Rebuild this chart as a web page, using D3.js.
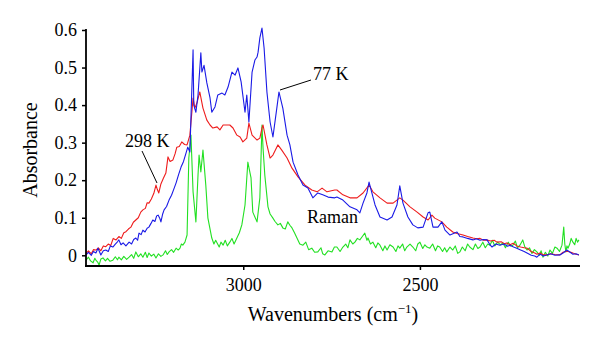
<!DOCTYPE html>
<html><head><meta charset="utf-8">
<script src="https://cdn.jsdelivr.net/npm/d3@7/dist/d3.min.js"></script>
<style>
html,body{margin:0;padding:0;background:#fff;}
text{font-family:"Liberation Serif","DejaVu Serif",serif;fill:#000;}
</style></head>
<body><svg id="chart" width="600" height="347"></svg>
<script>
// ---- data ----
const xTicks = [3000, 2500];
const yTicks = [0, 0.1, 0.2, 0.3, 0.4, 0.5, 0.6];
const seriesNames = ["298 K", "77 K", "Raman"];

const wn298 = [3445,3438,3430,3424,3417,3410,3403,3396,3389,3382,3375,3368,3360,3352,3345,3338,3332,3325,3318,3311,3304,3297,3290,3284,3277,3272,3267,3260,3253,3247,3243,3239,3233,3226,3219,3213,3207,3199,3193,3188,3181,3174,3166,3159,3151,3142,3137,3131,3123,3114,3103,3094,3086,3074,3066,3057,3038,3029,3018,3009,3001,2990,2984,2975,2961,2953,2947,2944,2933,2924,2916,2902,2891,2876,2862,2845,2825,2806,2791,2777,2763,2741,2735,2718,2698,2678,2661,2644,2633,2613,2593,2576,2557,2548,2528,2508,2491,2477,2466,2458,2438,2424,2407,2395,2378,2365,2350,2340,2330,2320,2310,2300,2290,2282,2270,2262,2254,2245,2236,2226,2215,2205,2197,2185,2175,2169,2160,2150,2141,2130,2118,2104,2095,2084,2075,2067,2058,2050];
const abs298 = [0.005,0.012,0.004,0.015,0.014,0.02,0.012,0.025,0.023,0.03,0.026,0.045,0.041,0.05,0.045,0.06,0.063,0.07,0.075,0.088,0.094,0.1,0.115,0.121,0.125,0.14,0.139,0.15,0.165,0.187,0.175,0.166,0.19,0.205,0.219,0.262,0.25,0.254,0.27,0.288,0.29,0.302,0.295,0.294,0.32,0.419,0.392,0.406,0.435,0.392,0.36,0.347,0.339,0.342,0.334,0.347,0.347,0.339,0.32,0.315,0.302,0.312,0.352,0.32,0.307,0.312,0.339,0.347,0.294,0.259,0.267,0.294,0.28,0.259,0.232,0.209,0.187,0.174,0.169,0.179,0.169,0.174,0.174,0.161,0.153,0.153,0.166,0.187,0.169,0.153,0.139,0.139,0.153,0.147,0.129,0.115,0.102,0.094,0.107,0.099,0.089,0.075,0.062,0.058,0.054,0.05,0.046,0.044,0.045,0.04,0.041,0.038,0.04,0.035,0.036,0.031,0.033,0.028,0.032,0.025,0.022,0.02,0.019,0.01,0.006,0.003,0.006,0.001,0.001,0.004,0.002,0.001,0.008,0.011,0.009,0.006,0.003,0.001];

const wn77 = [3445,3438,3430,3424,3417,3411,3403,3396,3389,3382,3376,3369,3362,3356,3352,3346,3340,3332,3323,3316,3310,3304,3299,3295,3289,3284,3278,3272,3267,3261,3256,3250,3245,3241,3236,3233,3228,3224,3217,3210,3203,3197,3190,3183,3176,3169,3162,3157,3151,3142,3140,3134,3128,3120,3117,3111,3103,3094,3089,3080,3072,3060,3052,3043,3032,3023,3015,3006,2995,2990,2984,2975,2967,2961,2958,2953,2947,2941,2933,2924,2916,2905,2899,2888,2876,2868,2859,2845,2831,2817,2803,2789,2775,2760,2741,2735,2718,2698,2678,2670,2661,2650,2644,2636,2627,2613,2593,2579,2565,2557,2548,2534,2520,2506,2491,2477,2472,2463,2449,2438,2429,2415,2405,2395,2387,2378,2365,2350,2340,2330,2320,2310,2303,2296,2285,2274,2262,2252,2245,2235,2226,2215,2205,2197,2185,2175,2169,2160,2150,2141,2130,2118,2104,2095,2084,2075,2067,2058,2050];
const abs77 = [0.001,0.008,0.0,0.01,0.006,0.019,0.001,0.012,0.014,0.01,0.025,0.022,0.03,0.036,0.041,0.028,0.033,0.025,0.035,0.03,0.042,0.046,0.04,0.059,0.055,0.067,0.062,0.072,0.075,0.085,0.094,0.09,0.105,0.107,0.098,0.089,0.11,0.121,0.13,0.147,0.16,0.175,0.193,0.215,0.235,0.25,0.272,0.288,0.275,0.547,0.4,0.381,0.427,0.539,0.488,0.506,0.459,0.419,0.381,0.395,0.427,0.432,0.427,0.448,0.488,0.48,0.499,0.462,0.381,0.427,0.355,0.488,0.52,0.528,0.541,0.579,0.605,0.552,0.435,0.355,0.315,0.392,0.435,0.392,0.32,0.294,0.248,0.214,0.187,0.179,0.153,0.166,0.161,0.155,0.153,0.155,0.147,0.129,0.121,0.113,0.139,0.166,0.195,0.166,0.134,0.102,0.094,0.102,0.134,0.185,0.139,0.102,0.081,0.073,0.075,0.113,0.115,0.075,0.075,0.089,0.067,0.054,0.058,0.062,0.05,0.049,0.045,0.041,0.044,0.04,0.042,0.041,0.03,0.022,0.03,0.027,0.03,0.024,0.027,0.022,0.019,0.014,0.01,0.006,0.0,-0.002,-0.005,0.003,-0.002,0.001,0.004,0.0,0.001,0.006,0.014,0.008,0.003,0.004,0.001];

const wnRaman = [3445,3438,3432,3425,3420,3417,3412,3408,3403,3397,3390,3384,3377,3369,3362,3356,3352,3345,3338,3330,3323,3316,3310,3304,3297,3290,3284,3277,3272,3267,3260,3253,3247,3240,3233,3227,3220,3215,3210,3203,3197,3190,3184,3179,3175,3171,3165,3159,3154,3148,3142,3134,3128,3125,3120,3114,3106,3100,3089,3083,3078,3074,3068,3063,3057,3051,3045,3038,3032,3026,3018,3011,3004,2995,2987,2978,2973,2961,2953,2947,2944,2939,2930,2924,2916,2910,2902,2895,2888,2881,2874,2868,2862,2855,2848,2840,2831,2823,2815,2806,2798,2789,2780,2775,2769,2760,2749,2742,2735,2726,2718,2710,2704,2698,2690,2684,2677,2670,2663,2656,2650,2647,2640,2633,2625,2619,2613,2605,2599,2593,2585,2576,2568,2562,2557,2549,2543,2537,2528,2520,2512,2506,2500,2492,2486,2480,2472,2464,2456,2450,2444,2436,2430,2424,2415,2407,2400,2393,2387,2380,2372,2365,2359,2350,2343,2336,2330,2322,2315,2308,2302,2295,2288,2280,2272,2265,2258,2250,2244,2237,2230,2224,2217,2209,2203,2197,2190,2183,2176,2169,2162,2157,2152,2145,2138,2132,2125,2118,2112,2105,2098,2093,2090,2087,2084,2081,2076,2072,2067,2062,2058,2054,2050];
const absRaman = [-0.013,-0.005,-0.015,-0.02,-0.008,-0.013,-0.018,-0.026,-0.01,-0.007,-0.015,-0.008,-0.016,-0.013,-0.004,-0.012,-0.005,-0.012,-0.003,-0.011,-0.005,0.002,-0.008,0.009,-0.004,0.004,-0.005,0.008,-0.006,0.006,-0.002,0.003,-0.007,0.004,-0.003,0.001,0.012,0.002,0.009,0.015,0.008,0.019,0.014,0.019,0.03,0.027,0.035,0.054,0.259,0.32,0.169,0.089,0.214,0.267,0.222,0.28,0.187,0.099,0.046,0.03,0.04,0.033,0.022,0.035,0.027,0.04,0.025,0.035,0.045,0.03,0.046,0.06,0.081,0.134,0.248,0.206,0.115,0.089,0.153,0.347,0.286,0.214,0.129,0.11,0.099,0.09,0.081,0.085,0.073,0.07,0.089,0.08,0.073,0.06,0.046,0.03,0.027,0.035,0.015,0.019,0.008,0.009,0.02,0.004,0.001,0.012,0.009,0.022,0.022,0.01,0.022,0.03,0.02,0.041,0.03,0.035,0.045,0.041,0.05,0.059,0.04,0.046,0.03,0.035,0.02,0.033,0.027,0.012,0.025,0.014,0.028,0.022,0.01,0.025,0.019,0.03,0.012,0.022,0.03,0.022,0.012,0.03,0.035,0.018,0.028,0.022,0.019,0.03,0.012,0.025,0.022,0.01,0.02,0.009,0.022,0.014,0.025,0.005,0.009,0.022,0.012,0.03,0.022,0.015,0.03,0.018,0.022,0.035,0.02,0.03,0.027,0.04,0.025,0.035,0.028,0.033,0.02,0.035,0.025,0.027,0.038,0.02,0.027,0.041,0.022,0.014,0.02,0.005,0.015,0.009,0.0,0.012,-0.005,0.008,-0.002,0.014,0.005,0.022,0.019,0.01,0.027,0.075,0.03,0.009,0.025,0.019,0.03,0.045,0.035,0.028,0.045,0.035,0.041];

const colors = ["#ee1c1c", "#1a1ae6", "#22e022"];

// ---- layout ----
const svg = d3.select("#chart");
const x = d3.scaleLinear().domain([3445, 2047]).range([86, 580]);
const y = d3.scaleLinear().domain([-0.0285, 0.6]).range([266, 30]);

const line = d3.line().x(d => x(d[0])).y(d => y(d[1]));
const series = [
  d3.zip(wn298, abs298),
  d3.zip(wn77, abs77),
  d3.zip(wnRaman, absRaman)
];
[2, 0, 1].forEach(i => {
  svg.append("path").datum(series[i])
    .attr("fill", "none").attr("stroke", colors[i])
    .attr("stroke-width", 1.1).attr("stroke-linejoin", "round")
    .attr("d", line);
});

// axes
const yAxis = d3.axisLeft(y).tickValues(yTicks).tickSize(4).tickSizeOuter(0)
  .tickFormat(d => d === 0 ? "0" : d3.format(".1f")(d));
const gy = svg.append("g").attr("transform", "translate(86,0)").call(yAxis);
gy.select(".domain").remove();
gy.selectAll(".tick line").attr("stroke", "#000").attr("stroke-width", 1.5);
gy.selectAll(".tick text").attr("x", -9).style("font-size", "18px")
  .style("font-family", '"Liberation Serif", serif');

const xAxis = d3.axisBottom(x).tickValues(xTicks).tickSize(4).tickSizeOuter(0)
  .tickFormat(d3.format("d"));
const gx = svg.append("g").attr("transform", "translate(0,266)").call(xAxis);
gx.select(".domain").remove();
gx.selectAll(".tick line").attr("stroke", "#000").attr("stroke-width", 1.5);
gx.selectAll(".tick text").attr("y", 12).style("font-size", "18px")
  .style("font-family", '"Liberation Serif", serif');

svg.append("line").attr("x1", 86).attr("x2", 86).attr("y1", y(0.6) - 1).attr("y2", 266)
  .attr("stroke", "#000").attr("stroke-width", 1.8);
svg.append("line").attr("x1", 85).attr("x2", 580).attr("y1", 266).attr("y2", 266)
  .attr("stroke", "#000").attr("stroke-width", 1.8);

// axis titles
svg.append("text").attr("transform", "translate(37,150) rotate(-90)")
  .attr("text-anchor", "middle").style("font-size", "20px").text("Absorbance");
const xt = svg.append("text").attr("x", 333).attr("y", 321)
  .attr("text-anchor", "middle").style("font-size", "20px");
xt.append("tspan").text("Wavenumbers (cm");
xt.append("tspan").attr("dy", -8).style("font-size", "13px").text("\u22121");
xt.append("tspan").attr("dy", 8).text(")");

// annotations
svg.append("text").attr("x", 125).attr("y", 147).style("font-size", "18px").text(seriesNames[0]);
svg.append("line").attr("x1", 142).attr("y1", 151).attr("x2", 157).attr("y2", 183)
  .attr("stroke", "#000").attr("stroke-width", 1);
svg.append("text").attr("x", 313).attr("y", 80).style("font-size", "18px").text(seriesNames[1]);
svg.append("line").attr("x1", 280).attr("y1", 90).attr("x2", 311).attr("y2", 80)
  .attr("stroke", "#000").attr("stroke-width", 1);
svg.append("text").attr("x", 307).attr("y", 223).style("font-size", "18px").text(seriesNames[2]);
</script></body></html>
